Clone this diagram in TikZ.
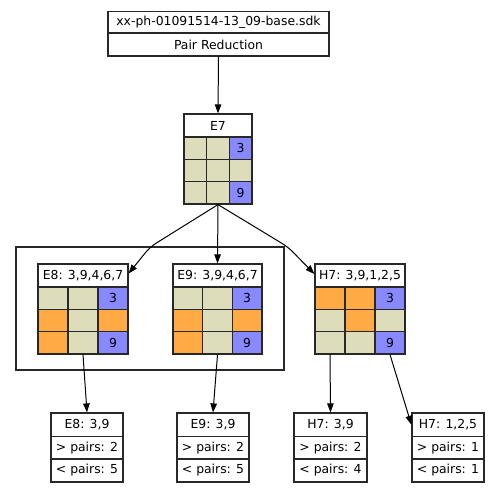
\documentclass[tikz,border=0pt]{standalone}
\usepackage{fontspec}
\setmainfont{DejaVu Sans}
\usetikzlibrary{arrows.meta}
\definecolor{tanc}{RGB}{221,221,187}
\definecolor{orng}{RGB}{255,170,68}
\definecolor{blu}{RGB}{136,136,255}
\definecolor{edgec}{RGB}{40,40,40}
\tikzset{
  cell/.style={draw=edgec,line width=1.2pt,inner sep=0pt,rectangle,font=\fontsize{12.4}{14}\selectfont},
  box/.style={cell,fill=white},
  conn/.style={line width=1pt,-{Triangle[length=9pt,width=6.5pt]}},
  clusterbox/.style={draw=edgec,line width=1.2pt,inner sep=0pt,rectangle}
}
\newcommand\cellgrid[8]{%
  \pgfmathsetmacro\cw{#4/3}%
  \node[box,minimum width=#4,minimum height=#5] (#1-h) at ({#2+#4/2},{-(#3+#5/2)}) {#7};
  \foreach \r/\c/\col/\t in {#8} {
    \node[cell,fill=\col,minimum width=\cw,minimum height=#6] (#1-\r\c) at ({#2+(\c-0.5)*\cw},{-(#3+#5+(\r-0.5)*#6)}) {\t};
  }}
\begin{document}
\begin{tikzpicture}[x=1pt,y=1pt]
\useasboundingbox (0,0) rectangle (500,-492);
% top box
\node[box,minimum width=221,minimum height=22] (top-1) at (218.5,-22.5) {xx-ph-01091514-13\_09-base.sdk};
\node[box,minimum width=221,minimum height=23] (top-2) at (218.5,-44.5) {Pair Reduction};
% cluster
\node[clusterbox,minimum width=268,minimum height=123] (cluster) at (150,-308.5) {};
% grids
\cellgrid{e7}{184}{114}{68}{23}{22.33}{E7}{1/1/tanc/,1/2/tanc/,1/3/blu/3,2/1/tanc/,2/2/tanc/,2/3/tanc/,3/1/tanc/,3/2/tanc/,3/3/blu/9}
\cellgrid{e8}{38}{264}{90}{23}{22.33}{E8: 3,9,4,6,7}{1/1/tanc/,1/2/tanc/,1/3/blu/3,2/1/orng/,2/2/tanc/,2/3/orng/,3/1/orng/,3/2/tanc/,3/3/blu/9}
\cellgrid{e9}{173}{264}{89}{23}{22.33}{E9: 3,9,4,6,7}{1/1/tanc/,1/2/tanc/,1/3/blu/3,2/1/orng/,2/2/tanc/,2/3/orng/,3/1/orng/,3/2/tanc/,3/3/blu/9}
\cellgrid{h7}{315}{264}{90}{23}{22.33}{H7: 3,9,1,2,5}{1/1/orng/,1/2/orng/,1/3/blu/3,2/1/tanc/,2/2/orng/,2/3/tanc/,3/1/tanc/,3/2/tanc/,3/3/blu/9}
% bottom boxes
\foreach \n/\x/\w/\a/\b/\c in {b1/87/72/{E8: 3,9}/2/5, b2/213/72/{E9: 3,9}/2/5, b3/330.5/73/{H7: 3,9}/2/4, b4/448/72/{H7: 1,2,5}/1/1}{
  \node[box,minimum width=\w,minimum height=23.5] (\n-1) at (\x,-424.75) {\a};
  \node[box,minimum width=\w,minimum height=22.5] (\n-2) at (\x,-447.75) {> pairs: \b};
  \node[box,minimum width=\w,minimum height=23] (\n-3) at (\x,-470.5) {< pairs: \c};
}
% bend points
\coordinate (kl) at (150,-247);
\coordinate (kr) at (288,-247);
% connectors
\draw[conn] (top-2.south) -- (e7-h.north);
\draw[conn,rounded corners=7pt] (e7-32.south) -- (kl) -- ([yshift=2pt]e8-h.east);
\draw[conn] (e7-32.south) -- (e9-h.north);
\draw[conn,rounded corners=7pt] (e7-32.south) -- (kr) -- ([yshift=1.5pt]h7-h.west);
\draw[conn] (e8-32.south) -- (b1-1.north);
\draw[conn] (e9-32.south) -- (b2-1.north);
\draw[conn] (h7-31.south) -- (b3-1.north);
\draw[conn] (h7-33.south) -- (b4-1.west);
\end{tikzpicture}
\end{document}
